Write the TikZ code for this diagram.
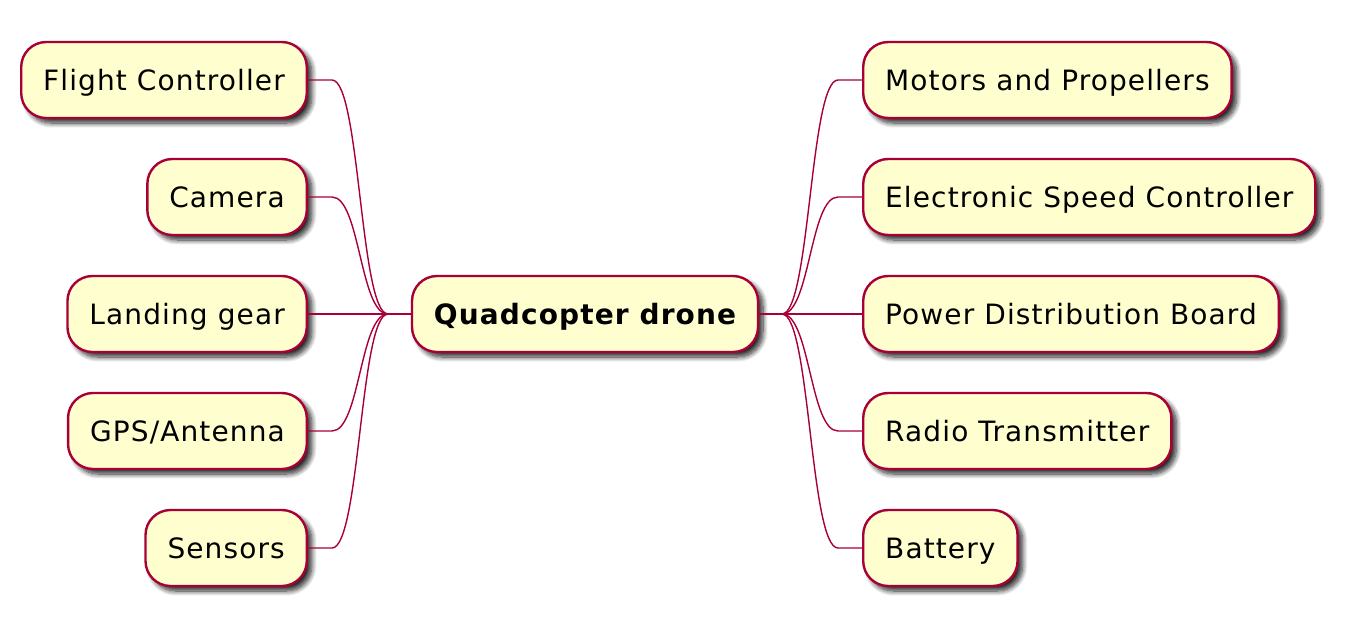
\documentclass[tikz,border=0pt]{standalone}
\usepackage{fontspec}
\setmainfont{DejaVu Sans}[LetterSpace=4.0]
\usetikzlibrary{shadows.blur,calc}
\definecolor{boxfill}{HTML}{FEFECE}
\definecolor{boxline}{HTML}{A80036}
\tikzset{
  mmbox/.style={draw=boxline, fill=boxfill, line width=2.4pt, rounded corners=25pt,
    minimum height=76pt, inner xsep=22pt, inner ysep=0pt, text height=21pt, text depth=1pt,
    font=\fontsize{28}{34}\selectfont,
    blur shadow={shadow xshift=5pt, shadow yshift=-5pt, shadow blur steps=10, shadow blur radius=5pt, shadow opacity=85}},
  mmline/.style={draw=boxline, line width=1.4pt}
}
\begin{document}
\begin{tikzpicture}[x=1pt,y=-1pt]
\useasboundingbox (0,0) rectangle (1358,630);
\node[mmbox, font=\fontsize{28}{34}\selectfont\bfseries, minimum width=346pt, inner xsep=0pt] (root) at (585,314) {Quadcopter drone};
\node[mmbox, anchor=east] (l1) at (308,80) {Flight Controller};
\node[mmbox, anchor=east] (l2) at (308,197) {Camera};
\node[mmbox, anchor=east] (l3) at (308,314) {Landing gear};
\node[mmbox, anchor=east] (l4) at (308,431) {GPS/Antenna};
\node[mmbox, anchor=east] (l5) at (308,548) {Sensors};
\node[mmbox, anchor=west] (r1) at (862,80) {Motors and Propellers};
\node[mmbox, anchor=west] (r2) at (862,197) {Electronic Speed Controller};
\node[mmbox, anchor=west] (r3) at (862,314) {Power Distribution Board};
\node[mmbox, anchor=west] (r4) at (862,431) {Radio Transmitter};
\node[mmbox, anchor=west] (r5) at (862,548) {Battery};
\coordinate (hubL) at (388,314);
\coordinate (hubR) at (782,314);
\draw[mmline] (root.west) -- (hubL);
\draw[mmline] (root.east) -- (hubR);
\foreach \c in {l1,l2,l3,l4,l5}{
  \draw[mmline] (\c.east) -- ++(24,0) .. controls +(28,0) and +(-28,0) .. (hubL);
}
\foreach \c in {r1,r2,r3,r4,r5}{
  \draw[mmline] (\c.west) -- ++(-24,0) .. controls +(-28,0) and +(28,0) .. (hubR);
}
\end{tikzpicture}
\end{document}
